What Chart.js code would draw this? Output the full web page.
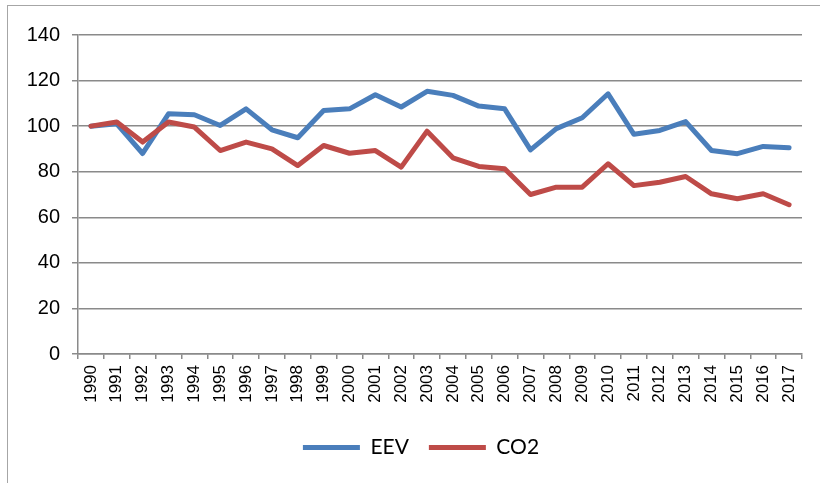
<!DOCTYPE html>
<html>
<head>
<meta charset="utf-8">
<script src="https://cdn.jsdelivr.net/npm/chart.js@4/dist/chart.umd.min.js"></script>
<style>
    html, body { margin: 0; padding: 0; background: #fff; overflow: hidden; }
    #wrap { position: relative; width: 820px; height: 483px; }
    #frame { position: absolute; left: 7px; top: 5px; width: 840px; height: 500px; border: 1.5px solid #a6a6a6; }
    #chart_1 { position: absolute; left: 0; top: 0; }
</style>
</head>
<body>
<div id="wrap">
    <div id="frame"></div>
    <canvas id="chart_1" width="820" height="483"></canvas>
</div>
<script>
const years = ['1990', '1991', '1992', '1993', '1994', '1995', '1996', '1997', '1998', '1999',
    '2000', '2001', '2002', '2003', '2004', '2005', '2006', '2007', '2008', '2009',
    '2010', '2011', '2012', '2013', '2014', '2015', '2016', '2017'];

const eev = [100, 101, 88, 105.4, 105, 100.3, 107.6, 98.4, 94.9, 106.9,
    107.6, 113.8, 108.4, 115.3, 113.5, 108.8, 107.6, 89.6, 98.9, 103.7,
    114.2, 96.4, 98.1, 102, 89.3, 87.9, 91.1, 90.5];

const co2 = [100, 101.8, 93, 101.8, 99.6, 89.3, 93, 90, 82.7, 91.5,
    88.1, 89.3, 82, 97.8, 86.1, 82.3, 81.3, 70, 73.2, 73.2,
    83.5, 73.9, 75.4, 77.9, 70.3, 68.1, 70.3, 65.5];

const yTicks = [0, 20, 40, 60, 80, 100, 120, 140];

const gridGrey = '#8a8a8a';

let chart_1 = document.getElementById('chart_1');

// legend sits a bit right of the canvas centre in the original
const legendShift = {
    id: 'legendShift',
    afterLayout(chart) {
        chart.legend.left += 20;
        chart.legend.right += 20;
    }
};

let chart = new Chart(chart_1, {
    type: 'line',
    data: {
        labels: years,
        datasets: [{
            label: 'EEV',
            data: eev,
            borderColor: '#4a7ebb',
            backgroundColor: '#4a7ebb',
            borderWidth: 5,
            borderCapStyle: 'round',
            borderJoinStyle: 'round',
            pointRadius: 0,
            tension: 0,
            order: 1
        }, {
            label: 'CO2',
            data: co2,
            borderColor: '#be4b48',
            backgroundColor: '#be4b48',
            borderWidth: 5,
            borderCapStyle: 'round',
            borderJoinStyle: 'round',
            pointRadius: 0,
            tension: 0,
            order: 0
        }]
    },
    plugins: [legendShift],
    options: {
        responsive: false,
        animation: false,
        devicePixelRatio: 1,
        layout: {
            padding: {top: 35, right: 18, bottom: 15, left: 0}
        },
        plugins: {
            tooltip: {enabled: false},
            legend: {
                position: 'bottom',
                labels: {
                    usePointStyle: true,
                    pointStyle: 'line',
                    pointStyleWidth: 57,
                    padding: 20,
                    color: '#000',
                    font: {family: 'Lato', size: 21},
                    sort: (a, b) => a.datasetIndex - b.datasetIndex
                }
            }
        },
        scales: {
            x: {
                offset: true,
                afterFit: (scale) => { scale.height = 63; },
                border: {display: true, color: gridGrey, width: 1.5},
                grid: {
                    offset: true,
                    drawOnChartArea: false,
                    drawTicks: true,
                    tickLength: 5,
                    color: gridGrey,
                    lineWidth: 1.5
                },
                ticks: {
                    autoSkip: false,
                    minRotation: 90,
                    maxRotation: 90,
                    padding: 6,
                    color: '#000',
                    font: {family: 'Liberation Sans', size: 17}
                }
            },
            y: {
                min: 0,
                max: 140,
                afterFit: (scale) => { scale.width = 78; },
                afterBuildTicks: (scale) => { scale.ticks = yTicks.map(v => ({value: v})); },
                border: {display: true, color: gridGrey, width: 1.5},
                grid: {
                    color: gridGrey,
                    lineWidth: 1.5,
                    tickLength: 6
                },
                ticks: {
                    padding: 12,
                    color: '#000',
                    font: {family: 'Liberation Sans', size: 20}
                }
            }
        }
    }
});
</script>
</body>
</html>
